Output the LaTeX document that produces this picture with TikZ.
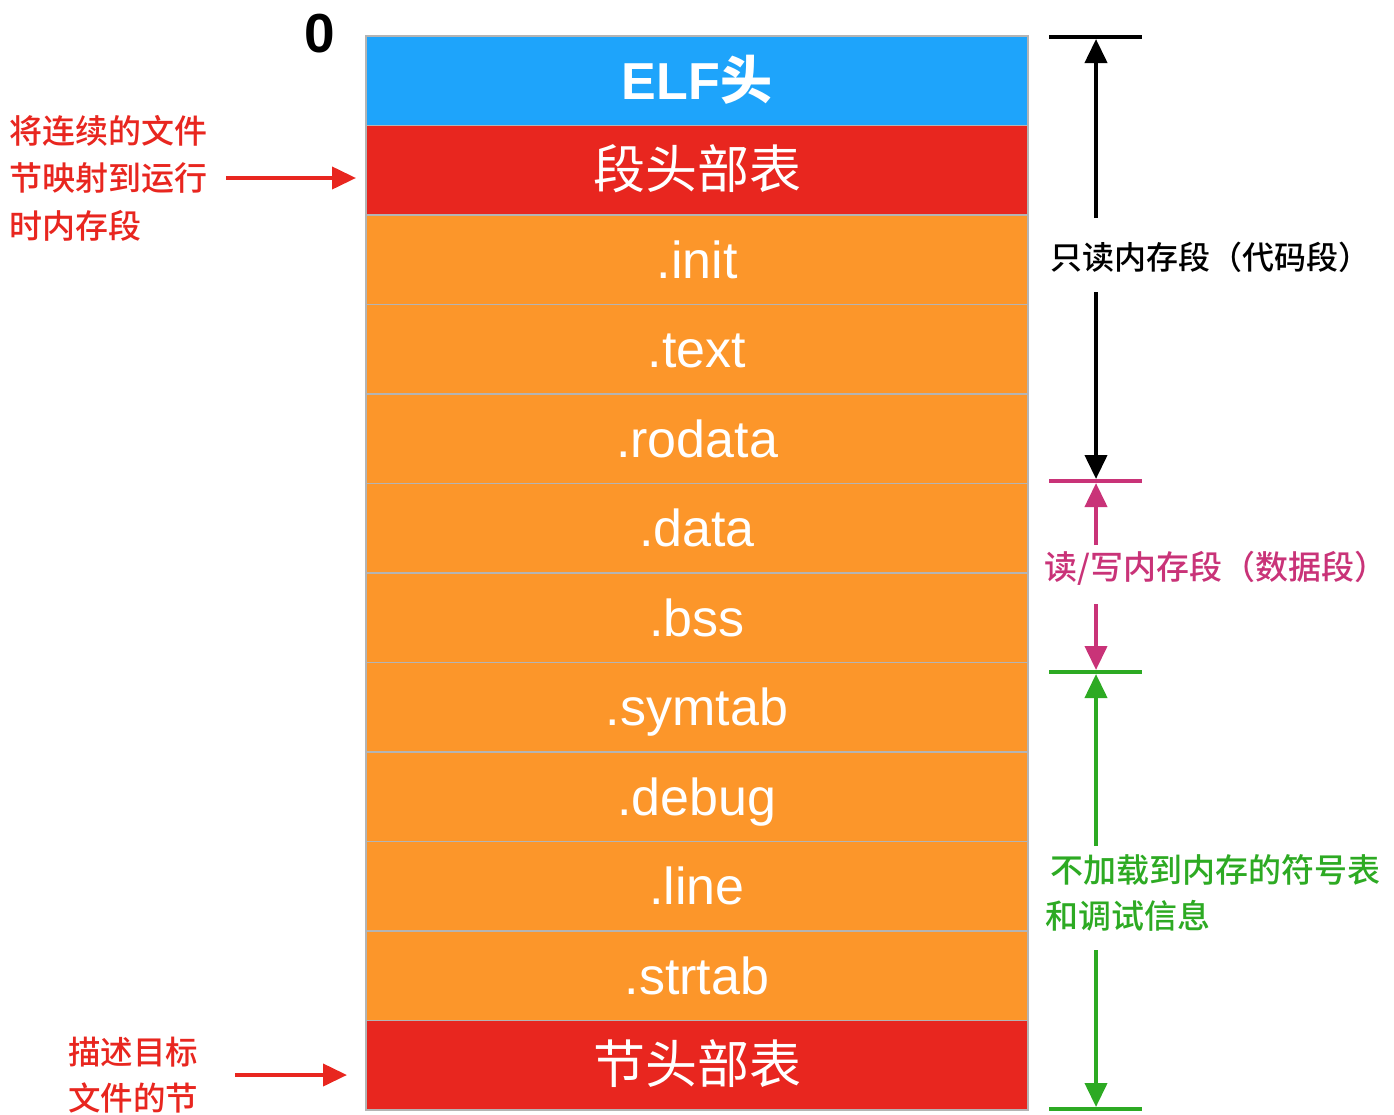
\documentclass[tikz,border=0pt]{standalone}
\usepackage{fontspec}
\setmainfont{Liberation Sans}
\newfontfamily\cjk{Noto Sans CJK SC}
\newfontfamily\cjkm{Noto Sans CJK SC Medium}
\usetikzlibrary{arrows.meta}
\definecolor{elfblue}{HTML}{1EA4FB}
\definecolor{hdrred}{HTML}{E8261F}
\definecolor{secorange}{HTML}{FC962A}
\definecolor{rwmag}{HTML}{C93378}
\definecolor{nlgreen}{HTML}{2DAA23}
\definecolor{sepgray}{HTML}{B4B4B4}
\tikzset{
  row/.style={draw=sepgray, line width=1.5pt, minimum width=662pt, minimum height=89.5pt,
    inner sep=0pt, text=white, text height=37pt, text depth=0pt,
    font=\fontsize{52}{52}\selectfont},
  bar/.style={line width=4pt},
  dimarrow/.style={line width=4pt, -{Triangle[width=22pt,length=24pt]}},
  sidelbl/.style={font=\cjkm\fontsize{33}{47.5}\selectfont, align=left, inner sep=0pt},
}
\begin{document}
\begin{tikzpicture}[x=1pt,y=-1pt]
\useasboundingbox (0,0) rectangle (1394,1114);
% rows
\node[row, fill=elfblue, font=\bfseries\fontsize{52}{52}\selectfont] (elf) at (697,80.75) {ELF{\cjk\bfseries 头}};
\node[row, fill=hdrred] (phdr) at (697,170.25) {\cjk 段头部表};
\node[row, fill=secorange] (init) at (697,259.75) {.init};
\node[row, fill=secorange] (text) at (697,349.25) {.text};
\node[row, fill=secorange] (rodata) at (697,438.75) {.rodata};
\node[row, fill=secorange] (data) at (697,528.25) {.data};
\node[row, fill=secorange] (bss) at (697,617.75) {.bss};
\node[row, fill=secorange] (symtab) at (697,707.25) {.symtab};
\node[row, fill=secorange] (debug) at (697,796.75) {.debug};
\node[row, fill=secorange] (line) at (697,886.25) {.line};
\node[row, fill=secorange] (strtab) at (697,975.75) {.strtab};
\node[row, fill=hdrred] (shdr) at (697,1065.25) {\cjk 节头部表};
% zero label
\node[font=\bfseries\fontsize{55}{55}\selectfont, text height=39pt, text depth=0pt, inner sep=0pt] (zero) at (320,33) {0};
% left annotations
\node[sidelbl, text=hdrred, anchor=west] (lmap) at (9,178) {将连续的文件\\节映射到运行\\时内存段};
\coordinate (lmaps) at (226,178);
\coordinate (lmape) at (356,178);
\draw[dimarrow, hdrred] (lmaps) -- (lmape);
\node[sidelbl, text=hdrred, anchor=west, font=\cjkm\fontsize{32.5}{46}\selectfont] (ldesc) at (68,1075) {描述目标\\文件的节};
\coordinate (ldescs) at (235,1075);
\coordinate (ldesce) at (347,1075);
\draw[dimarrow, hdrred] (ldescs) -- (ldesce);
% bars
\coordinate (b1l) at (1049,37); \coordinate (b1r) at (1142,37);
\coordinate (b2l) at (1049,481); \coordinate (b2r) at (1142,481);
\coordinate (b3l) at (1049,672); \coordinate (b3r) at (1142,672);
\coordinate (b4l) at (1049,1109); \coordinate (b4r) at (1142,1109);
\coordinate (b1) at (1096,39); \coordinate (b2a) at (1096,479); \coordinate (b2b) at (1096,483);
\coordinate (b3a) at (1096,670); \coordinate (b3b) at (1096,674); \coordinate (b4) at (1096,1107);
\draw[bar, black] (b1l) -- (b1r);
\draw[bar, rwmag] (b2l) -- (b2r);
\draw[bar, nlgreen] (b3l) -- (b3r);
\draw[bar, nlgreen] (b4l) -- (b4r);
% read-only
\node[sidelbl, font=\cjkm\fontsize{32}{32}\selectfont, anchor=west] (ro) at (1050,257) {只读内存段（代码段）};
\coordinate (ro1) at (1096,218); \coordinate (ro2) at (1096,292);
\draw[dimarrow, black] (ro1) -- (b1);
\draw[dimarrow, black] (ro2) -- (b2a);
% read/write
\node[sidelbl, text=rwmag, anchor=west] (rw) at (1044,568) {读/写内存段（数据段）};
\coordinate (rw1) at (1096,545); \coordinate (rw2) at (1096,604);
\draw[dimarrow, rwmag] (rw1) -- (b2b);
\draw[dimarrow, rwmag] (rw2) -- (b3a);
% not loaded
\node[sidelbl, text=nlgreen, anchor=west, font=\cjkm\fontsize{33}{46}\selectfont] (nl) at (1045,893) {\hspace{5pt}不加载到内存的符号表\\和调试信息};
\coordinate (nl1) at (1096,846); \coordinate (nl2) at (1096,950);
\draw[dimarrow, nlgreen] (nl1) -- (b3b);
\draw[dimarrow, nlgreen] (nl2) -- (b4);
\end{tikzpicture}
\end{document}
